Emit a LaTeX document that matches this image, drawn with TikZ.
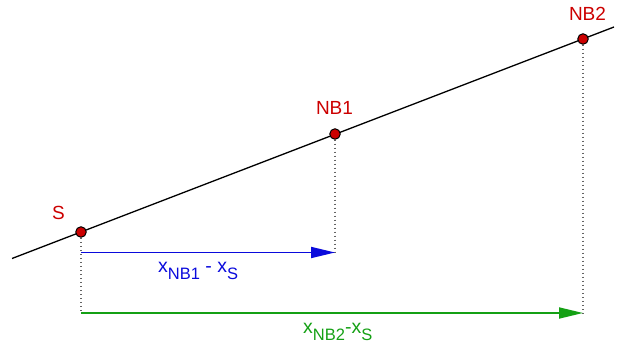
\documentclass[tikz,border=0pt]{standalone}
\usepackage{fontspec}
\setmainfont{Liberation Sans}
\usetikzlibrary{arrows.meta}
\definecolor{ptred}{RGB}{204,0,0}
\definecolor{ptblue}{RGB}{10,10,220}
\definecolor{ptgreen}{RGB}{20,160,20}
\definecolor{dotgray}{RGB}{100,100,100}
\newcommand{\subsc}[1]{\raisebox{-7pt}{\fontsize{16.5}{16.5}\selectfont #1}}
\tikzset{
  pt/.style={circle,draw=black,fill=ptred,line width=1pt,inner sep=0pt,minimum size=10.5pt},
  ptlabel/.style={text=ptred,font=\fontsize{19}{19}\selectfont,inner sep=0pt},
  proj/.style={dotgray,line width=1.3pt,dash pattern=on 1.3pt off 2.7pt},
  dist/.style={line width=1.8pt,-{Triangle[length=24pt,width=11pt]},shorten >=0pt},
  distlabel/.style={font=\fontsize{19.5}{19.5}\selectfont,inner sep=0pt}
}
\begin{document}
\begin{tikzpicture}[x=1pt,y=-1pt]
\useasboundingbox (0,0) rectangle (617,352);
\coordinate (L1) at (12,258.5);
\coordinate (L2) at (614,27);
\draw[line width=1.3pt] (L1) -- (L2);
\coordinate (Sb) at (81,313);
\coordinate (Sm) at (81,252.5);
\coordinate (N1b) at (335,252.5);
\coordinate (N2b) at (583,313);
\node[pt] (S) at (81,232) {};
\node[pt] (N1) at (335,134) {};
\node[pt] (N2) at (583,39) {};
\draw[proj] (S) -- (Sb);
\draw[proj] (N1) -- (N1b);
\draw[proj] (N2) -- (N2b);
\draw[dist,ptblue] (Sm) -- (N1b);
\draw[dist,ptgreen] (Sb) -- (N2b);
\node[ptlabel] (lS) at (58.5,213) {S};
\node[ptlabel] (lN1) at (334.5,108) {NB1};
\node[ptlabel] (lN2) at (587.5,14) {NB2};
\node[distlabel,text=ptblue,anchor=base west] (l1) at (158,272) {x\subsc{NB1} - x\subsc{S}};
\node[distlabel,text=ptgreen,anchor=base west] (l2) at (303,333) {x\subsc{NB2}-x\subsc{S}};
\end{tikzpicture}
\end{document}
